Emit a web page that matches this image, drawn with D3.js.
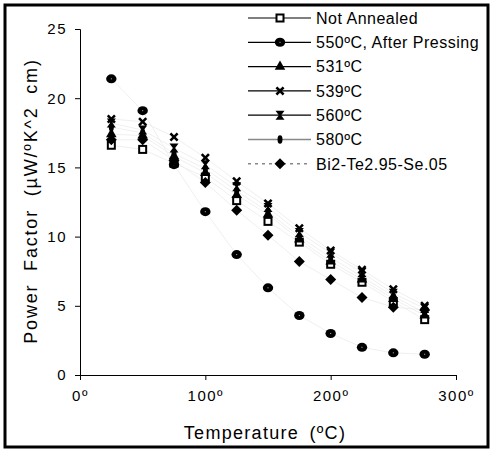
<!DOCTYPE html>
<html>
<head>
<meta charset="utf-8">
<script src="https://cdn.jsdelivr.net/npm/d3@7"></script>
<style>
  body { margin: 0; background: #fff; }
  text { font-family: "Liberation Sans", Arial, sans-serif; fill: #000; }
</style>
</head>
<body>
<div class="container"></div>
<script>
// data
var temps = [25, 50, 75, 100, 125, 150, 175, 200, 225, 250, 275];
var notAnnealed = [16.6, 16.3, 15.3, 14.3, 12.6, 11.1, 9.6, 8.0, 6.7, 5.3, 4.0];
var after550    = [21.4, 19.1, 15.2, 11.8, 8.7, 6.3, 4.3, 3.0, 2.0, 1.6, 1.5];
var t531        = [17.4, 17.3, 15.8, 14.6, 13.0, 11.6, 9.8, 8.2, 6.9, 5.5, 4.3];
var t539        = [18.5, 18.3, 17.2, 15.7, 14.0, 12.4, 10.6, 9.0, 7.6, 6.2, 5.0];
var t560        = [18.2, 17.7, 16.4, 15.2, 13.6, 12.1, 10.3, 8.8, 7.4, 5.9, 4.8];
var t580        = [17.9, 17.5, 16.0, 14.9, 13.3, 11.8, 10.0, 8.5, 7.1, 5.7, 4.5];
var bi2te       = [17.0, 17.0, 15.5, 13.9, 11.9, 10.1, 8.2, 6.9, 5.6, 4.9, 4.7];
var seriesNames = ["Not Annealed", "550ºC, After Pressing", "531ºC", "539ºC", "560ºC", "580ºC", "Bi2-Te2.95-Se.05"];
var xTicks = [0, 100, 200, 300];
var yTicks = [0, 5, 10, 15, 20, 25];

var width = 492, height = 451;

var svg = d3.select(".container").append("svg")
    .attr("width", width)
    .attr("height", height);

// outer frame
svg.append("rect")
    .attr("x", 5).attr("y", 5)
    .attr("width", 483).attr("height", 442)
    .attr("fill", "none")
    .attr("stroke", "#000")
    .attr("stroke-width", 3);

var x = d3.scaleLinear().domain([0, 300]).range([80, 456]);
var y = d3.scaleLinear().domain([0, 25]).range([375, 29]);

// custom marker paths
function bowtie(s) {
  var h = s / 2;
  return "M" + (-h) + "," + (-h) + "H" + h + "L" + (h * 0.25) + ",0L" + h + "," + h + "H" + (-h) + "L" + (-h * 0.25) + ",0Z";
}
function xmark(s) {
  var h = s / 2, t = 1.8;
  return "M" + (-h) + "," + (-h + t) + "L" + (-h + t) + "," + (-h) + "L0," + (-t) + "L" + (h - t) + "," + (-h) + "L" + h + "," + (-h + t) +
    "L" + t + ",0L" + h + "," + (h - t) + "L" + (h - t) + "," + h + "L0," + t + "L" + (-h + t) + "," + h + "L" + (-h) + "," + (h - t) + "L" + (-t) + ",0Z";
}

var series = [
  {name: seriesNames[0], values: notAnnealed, marker: "square", line: "#000", dash: null},
  {name: seriesNames[1], values: after550, marker: "dotcircle", line: "#000", dash: null},
  {name: seriesNames[2], values: t531, marker: "triangle", line: "#000", dash: null},
  {name: seriesNames[3], values: t539, marker: "x", line: "#000", dash: null},
  {name: seriesNames[4], values: t560, marker: "bowtie", line: "#000", dash: null},
  {name: seriesNames[5], values: t580, marker: "ellipse", line: "#888", dash: null},
  {name: seriesNames[6], values: bi2te, marker: "diamond", line: "#888", dash: "3,4"}
];

function drawMarker(g, type) {
  if (type === "square") {
    g.append("rect").attr("x", -3.5).attr("y", -3.5).attr("width", 7).attr("height", 7)
      .attr("fill", "#fff").attr("stroke", "#000").attr("stroke-width", 2);
  } else if (type === "dotcircle") {
    g.append("ellipse").attr("rx", 5.2).attr("ry", 4.5).attr("fill", "#000");
    g.append("rect").attr("x", -0.5).attr("y", -0.5).attr("width", 1).attr("height", 1).attr("fill", "#bbb");
  } else if (type === "triangle") {
    g.append("path").attr("d", d3.symbol().type(d3.symbolTriangle).size(48)()).attr("fill", "#000");
  } else if (type === "x") {
    g.append("path").attr("d", xmark(9)).attr("fill", "#000");
  } else if (type === "bowtie") {
    g.append("path").attr("d", bowtie(9)).attr("fill", "#000");
  } else if (type === "ellipse") {
    g.append("ellipse").attr("rx", 2.5).attr("ry", 4.2).attr("fill", "#000");
  } else if (type === "diamond") {
    g.append("path").attr("d", "M0,-5.5L5.5,0L0,5.5L-5.5,0Z").attr("fill", "#000");
  }
}

// axes
var yAxis = svg.append("g")
    .attr("transform", "translate(" + x(0) + ",0)")
    .call(d3.axisLeft(y).tickValues(yTicks).tickSize(5).tickPadding(8));
yAxis.selectAll("text").style("font-size", "15px").style("letter-spacing", "1.5px")
    .attr("font-family", "Liberation Sans");

var xAxis = svg.append("g")
    .attr("transform", "translate(0," + y(0) + ")")
    .call(d3.axisBottom(x).tickValues(xTicks).tickSize(5).tickPadding(10)
      .tickFormat(function(d) { return d + "º"; }));
xAxis.selectAll("text").style("font-size", "15px").style("letter-spacing", "1.5px")
    .attr("font-family", "Liberation Sans");
svg.selectAll(".domain").attr("stroke", "#000");

// faint connecting lines
var line = d3.line()
    .x(function(d, i) { return x(temps[i]); })
    .y(function(d) { return y(d); });

svg.append("g").selectAll("path")
    .data(series)
    .join("path")
      .attr("d", function(d) { return line(d.values); })
      .attr("fill", "none")
      .attr("stroke", "#ebebeb")
      .attr("stroke-width", 0.8);

// markers
series.forEach(function(s) {
  svg.append("g").selectAll("g")
    .data(s.values)
    .join("g")
      .attr("transform", function(d, i) { return "translate(" + x(temps[i]) + "," + y(d) + ")"; })
      .each(function() { drawMarker(d3.select(this), s.marker); });
});

// legend
var legend = svg.append("g");
legend.append("rect")
    .attr("x", 246).attr("y", 7).attr("width", 240).attr("height", 168)
    .attr("fill", "#fff");
var items = legend.selectAll("g")
    .data(series)
    .join("g")
      .attr("transform", function(d, i) { return "translate(0," + (18 + i * 24.3) + ")"; });
items.append("line")
    .attr("x1", 248).attr("x2", 311)
    .attr("stroke", function(d) { return d.line; })
    .attr("stroke-width", function(d) { return d.line === "#000" ? 1.2 : 1.6; })
    .attr("stroke-dasharray", function(d) { return d.dash; });
items.append("g")
    .attr("transform", "translate(280,0)")
    .each(function(d) { drawMarker(d3.select(this), d.marker); });
items.append("text")
    .attr("x", 316)
    .attr("dy", "0.36em")
    .style("font-size", "16px")
    .style("letter-spacing", "0.5px")
    .text(function(d) { return d.name; });

// axis titles
svg.append("text")
    .attr("x", 265).attr("y", 439)
    .attr("text-anchor", "middle")
    .style("font-size", "18px")
    .style("letter-spacing", "1.3px")
    .style("word-spacing", "4px")
    .text("Temperature (ºC)");

svg.append("text")
    .attr("transform", "translate(37,201) rotate(-90)")
    .attr("text-anchor", "middle")
    .style("font-size", "18px")
    .style("letter-spacing", "1.8px")
    .style("word-spacing", "6px")
    .text("Power Factor (µW/ºK^2 cm)");
</script>
</body>
</html>
